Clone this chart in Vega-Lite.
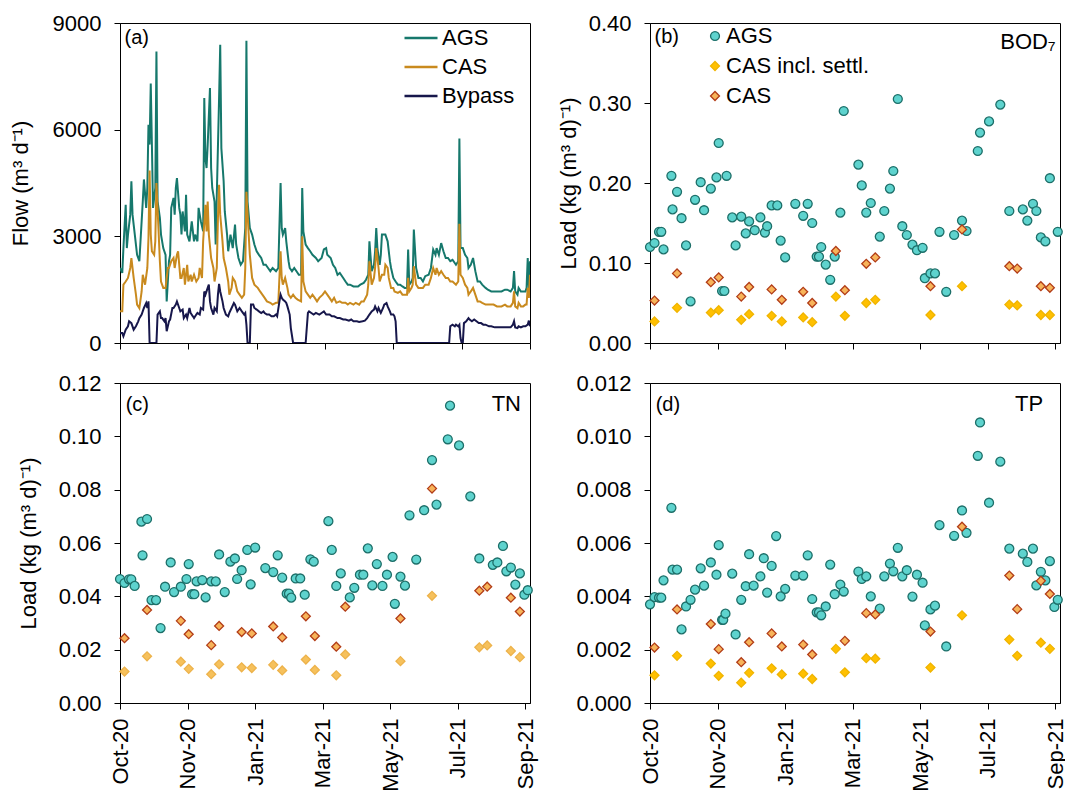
{
"$schema":"https://vega.github.io/schema/vega-lite/v6.json",
"padding":{"left":8,"top":11,"right":0,"bottom":0},
"config":{"font":"Liberation Sans","view":{"stroke":"#000","strokeWidth":1},
"axis":{"grid":false,"domainColor":"#000","tickColor":"#000","labelColor":"#000","titleColor":"#000","labelFontSize":22,"titleFontSize":22,"titleFontWeight":"normal","tickSize":6,"labelPadding":13,"labelFlush":false,"labelOverlap":false,"labelBound":false},
"legend":{"labelFontSize":22,"labelColor":"#000","padding":0,"labelLimit":300}},
"columns":2,
"spacing":{"row":40,"column":120},
"bounds":"flush",
"resolve":{"scale":{"x":"independent","y":"independent","color":"independent","shape":"independent","fill":"independent","stroke":"independent"}},
"datasets":{
"flow":[
{"s":"AGS","t":"2020-10-01","v":2110},{"s":"AGS","t":"2020-10-03","v":1970},{"s":"AGS","t":"2020-10-04","v":2670},{"s":"AGS","t":"2020-10-06","v":3890},{"s":"AGS","t":"2020-10-07","v":2670},{"s":"AGS","t":"2020-10-08","v":3050},{"s":"AGS","t":"2020-10-10","v":3610},{"s":"AGS","t":"2020-10-11","v":4550},{"s":"AGS","t":"2020-10-12","v":3610},{"s":"AGS","t":"2020-10-14","v":3050},{"s":"AGS","t":"2020-10-16","v":2480},{"s":"AGS","t":"2020-10-18","v":2300},{"s":"AGS","t":"2020-10-19","v":2860},{"s":"AGS","t":"2020-10-21","v":3980},{"s":"AGS","t":"2020-10-22","v":4600},{"s":"AGS","t":"2020-10-24","v":3800},{"s":"AGS","t":"2020-10-25","v":4360},{"s":"AGS","t":"2020-10-26","v":6140},{"s":"AGS","t":"2020-10-27","v":5580},{"s":"AGS","t":"2020-10-28","v":7300},{"s":"AGS","t":"2020-10-29","v":5580},{"s":"AGS","t":"2020-10-30","v":3800},{"s":"AGS","t":"2020-11-01","v":4360},{"s":"AGS","t":"2020-11-02","v":8200},{"s":"AGS","t":"2020-11-03","v":3980},{"s":"AGS","t":"2020-11-05","v":3520},{"s":"AGS","t":"2020-11-06","v":3050},{"s":"AGS","t":"2020-11-08","v":2670},{"s":"AGS","t":"2020-11-10","v":2480},{"s":"AGS","t":"2020-11-11","v":1170},{"s":"AGS","t":"2020-11-13","v":2300},{"s":"AGS","t":"2020-11-14","v":2480},{"s":"AGS","t":"2020-11-15","v":3800},{"s":"AGS","t":"2020-11-17","v":4080},{"s":"AGS","t":"2020-11-18","v":3610},{"s":"AGS","t":"2020-11-19","v":4360},{"s":"AGS","t":"2020-11-20","v":4640},{"s":"AGS","t":"2020-11-22","v":3800},{"s":"AGS","t":"2020-11-23","v":3610},{"s":"AGS","t":"2020-11-24","v":3050},{"s":"AGS","t":"2020-11-25","v":3700},{"s":"AGS","t":"2020-11-27","v":3140},{"s":"AGS","t":"2020-11-28","v":4170},{"s":"AGS","t":"2020-11-29","v":3050},{"s":"AGS","t":"2020-12-01","v":2860},{"s":"AGS","t":"2020-12-02","v":3140},{"s":"AGS","t":"2020-12-03","v":3420},{"s":"AGS","t":"2020-12-05","v":2860},{"s":"AGS","t":"2020-12-06","v":3050},{"s":"AGS","t":"2020-12-08","v":2860},{"s":"AGS","t":"2020-12-09","v":3800},{"s":"AGS","t":"2020-12-11","v":3420},{"s":"AGS","t":"2020-12-13","v":3140},{"s":"AGS","t":"2020-12-14","v":6890},{"s":"AGS","t":"2020-12-15","v":5200},{"s":"AGS","t":"2020-12-16","v":4920},{"s":"AGS","t":"2020-12-17","v":5580},{"s":"AGS","t":"2020-12-19","v":7170},{"s":"AGS","t":"2020-12-20","v":4920},{"s":"AGS","t":"2020-12-21","v":4360},{"s":"AGS","t":"2020-12-23","v":3980},{"s":"AGS","t":"2020-12-24","v":2770},{"s":"AGS","t":"2020-12-25","v":4170},{"s":"AGS","t":"2020-12-27","v":6890},{"s":"AGS","t":"2020-12-28","v":8390},{"s":"AGS","t":"2020-12-29","v":5480},{"s":"AGS","t":"2020-12-31","v":4550},{"s":"AGS","t":"2021-01-01","v":3700},{"s":"AGS","t":"2021-01-03","v":3050},{"s":"AGS","t":"2021-01-04","v":2580},{"s":"AGS","t":"2021-01-06","v":3050},{"s":"AGS","t":"2021-01-08","v":2670},{"s":"AGS","t":"2021-01-10","v":3330},{"s":"AGS","t":"2021-01-11","v":2770},{"s":"AGS","t":"2021-01-13","v":2390},{"s":"AGS","t":"2021-01-15","v":2200},{"s":"AGS","t":"2021-01-17","v":2300},{"s":"AGS","t":"2021-01-19","v":3230},{"s":"AGS","t":"2021-01-20","v":8500},{"s":"AGS","t":"2021-01-21","v":3980},{"s":"AGS","t":"2021-01-23","v":3230},{"s":"AGS","t":"2021-01-25","v":3050},{"s":"AGS","t":"2021-01-27","v":2770},{"s":"AGS","t":"2021-01-29","v":2580},{"s":"AGS","t":"2021-01-31","v":2480},{"s":"AGS","t":"2021-02-02","v":2390},{"s":"AGS","t":"2021-02-04","v":2200},{"s":"AGS","t":"2021-02-06","v":2200},{"s":"AGS","t":"2021-02-08","v":2110},{"s":"AGS","t":"2021-02-10","v":2020},{"s":"AGS","t":"2021-02-12","v":2110},{"s":"AGS","t":"2021-02-15","v":2020},{"s":"AGS","t":"2021-02-17","v":2110},{"s":"AGS","t":"2021-02-19","v":4500},{"s":"AGS","t":"2021-02-20","v":3230},{"s":"AGS","t":"2021-02-21","v":3050},{"s":"AGS","t":"2021-02-23","v":3230},{"s":"AGS","t":"2021-02-24","v":2860},{"s":"AGS","t":"2021-02-26","v":2300},{"s":"AGS","t":"2021-02-27","v":2110},{"s":"AGS","t":"2021-03-01","v":2020},{"s":"AGS","t":"2021-03-03","v":2110},{"s":"AGS","t":"2021-03-06","v":1970},{"s":"AGS","t":"2021-03-07","v":1920},{"s":"AGS","t":"2021-03-09","v":1920},{"s":"AGS","t":"2021-03-10","v":4360},{"s":"AGS","t":"2021-03-11","v":3140},{"s":"AGS","t":"2021-03-13","v":2770},{"s":"AGS","t":"2021-03-15","v":2670},{"s":"AGS","t":"2021-03-17","v":2580},{"s":"AGS","t":"2021-03-19","v":2480},{"s":"AGS","t":"2021-03-22","v":2390},{"s":"AGS","t":"2021-03-24","v":2300},{"s":"AGS","t":"2021-03-27","v":2390},{"s":"AGS","t":"2021-03-29","v":2630},{"s":"AGS","t":"2021-03-31","v":2670},{"s":"AGS","t":"2021-04-01","v":2480},{"s":"AGS","t":"2021-04-04","v":2390},{"s":"AGS","t":"2021-04-06","v":2200},{"s":"AGS","t":"2021-04-08","v":2110},{"s":"AGS","t":"2021-04-10","v":1920},{"s":"AGS","t":"2021-04-12","v":1970},{"s":"AGS","t":"2021-04-15","v":1830},{"s":"AGS","t":"2021-04-17","v":1730},{"s":"AGS","t":"2021-04-19","v":1640},{"s":"AGS","t":"2021-04-21","v":1640},{"s":"AGS","t":"2021-04-24","v":1590},{"s":"AGS","t":"2021-04-26","v":1590},{"s":"AGS","t":"2021-04-28","v":1590},{"s":"AGS","t":"2021-04-30","v":1640},{"s":"AGS","t":"2021-05-03","v":1690},{"s":"AGS","t":"2021-05-05","v":1780},{"s":"AGS","t":"2021-05-07","v":1920},{"s":"AGS","t":"2021-05-08","v":2860},{"s":"AGS","t":"2021-05-10","v":2020},{"s":"AGS","t":"2021-05-12","v":2200},{"s":"AGS","t":"2021-05-13","v":2580},{"s":"AGS","t":"2021-05-14","v":3230},{"s":"AGS","t":"2021-05-15","v":2670},{"s":"AGS","t":"2021-05-17","v":2200},{"s":"AGS","t":"2021-05-18","v":2480},{"s":"AGS","t":"2021-05-19","v":3050},{"s":"AGS","t":"2021-05-21","v":3050},{"s":"AGS","t":"2021-05-22","v":3050},{"s":"AGS","t":"2021-05-24","v":2860},{"s":"AGS","t":"2021-05-26","v":2300},{"s":"AGS","t":"2021-05-27","v":2110},{"s":"AGS","t":"2021-05-29","v":1830},{"s":"AGS","t":"2021-05-31","v":1730},{"s":"AGS","t":"2021-06-02","v":1640},{"s":"AGS","t":"2021-06-04","v":1640},{"s":"AGS","t":"2021-06-06","v":1590},{"s":"AGS","t":"2021-06-08","v":1550},{"s":"AGS","t":"2021-06-10","v":1550},{"s":"AGS","t":"2021-06-11","v":2630},{"s":"AGS","t":"2021-06-12","v":1640},{"s":"AGS","t":"2021-06-14","v":1730},{"s":"AGS","t":"2021-06-15","v":1830},{"s":"AGS","t":"2021-06-16","v":3190},{"s":"AGS","t":"2021-06-18","v":2110},{"s":"AGS","t":"2021-06-20","v":1830},{"s":"AGS","t":"2021-06-22","v":1830},{"s":"AGS","t":"2021-06-24","v":1730},{"s":"AGS","t":"2021-06-26","v":1880},{"s":"AGS","t":"2021-06-29","v":1920},{"s":"AGS","t":"2021-07-01","v":2110},{"s":"AGS","t":"2021-07-03","v":2630},{"s":"AGS","t":"2021-07-05","v":2480},{"s":"AGS","t":"2021-07-06","v":2670},{"s":"AGS","t":"2021-07-08","v":2480},{"s":"AGS","t":"2021-07-10","v":2810},{"s":"AGS","t":"2021-07-12","v":2580},{"s":"AGS","t":"2021-07-14","v":2390},{"s":"AGS","t":"2021-07-16","v":2390},{"s":"AGS","t":"2021-07-18","v":2300},{"s":"AGS","t":"2021-07-20","v":2340},{"s":"AGS","t":"2021-07-23","v":2200},{"s":"AGS","t":"2021-07-25","v":2300},{"s":"AGS","t":"2021-07-26","v":5750},{"s":"AGS","t":"2021-07-27","v":2670},{"s":"AGS","t":"2021-07-29","v":2670},{"s":"AGS","t":"2021-07-31","v":2480},{"s":"AGS","t":"2021-08-02","v":2390},{"s":"AGS","t":"2021-08-03","v":2110},{"s":"AGS","t":"2021-08-05","v":2200},{"s":"AGS","t":"2021-08-07","v":2390},{"s":"AGS","t":"2021-08-09","v":2020},{"s":"AGS","t":"2021-08-11","v":1730},{"s":"AGS","t":"2021-08-13","v":1730},{"s":"AGS","t":"2021-08-15","v":1640},{"s":"AGS","t":"2021-08-18","v":1550},{"s":"AGS","t":"2021-08-20","v":1500},{"s":"AGS","t":"2021-08-23","v":1450},{"s":"AGS","t":"2021-08-25","v":1450},{"s":"AGS","t":"2021-08-28","v":1450},{"s":"AGS","t":"2021-08-30","v":1450},{"s":"AGS","t":"2021-09-01","v":1450},{"s":"AGS","t":"2021-09-04","v":1500},{"s":"AGS","t":"2021-09-06","v":1500},{"s":"AGS","t":"2021-09-09","v":1450},{"s":"AGS","t":"2021-09-11","v":1550},{"s":"AGS","t":"2021-09-12","v":2020},{"s":"AGS","t":"2021-09-13","v":1450},{"s":"AGS","t":"2021-09-15","v":1360},{"s":"AGS","t":"2021-09-16","v":1550},{"s":"AGS","t":"2021-09-18","v":1450},{"s":"AGS","t":"2021-09-20","v":1450},{"s":"AGS","t":"2021-09-22","v":1450},{"s":"AGS","t":"2021-09-23","v":1550},{"s":"AGS","t":"2021-09-24","v":2390},{"s":"AGS","t":"2021-09-25","v":1550},{"s":"AGS","t":"2021-09-26","v":2300},
{"s":"CAS","t":"2020-10-01","v":890},{"s":"CAS","t":"2020-10-03","v":890},{"s":"CAS","t":"2020-10-04","v":1640},{"s":"CAS","t":"2020-10-06","v":1730},{"s":"CAS","t":"2020-10-08","v":1830},{"s":"CAS","t":"2020-10-10","v":2110},{"s":"CAS","t":"2020-10-11","v":2390},{"s":"CAS","t":"2020-10-13","v":1830},{"s":"CAS","t":"2020-10-15","v":1360},{"s":"CAS","t":"2020-10-16","v":1080},{"s":"CAS","t":"2020-10-18","v":980},{"s":"CAS","t":"2020-10-20","v":1450},{"s":"CAS","t":"2020-10-21","v":1920},{"s":"CAS","t":"2020-10-23","v":1640},{"s":"CAS","t":"2020-10-25","v":2110},{"s":"CAS","t":"2020-10-26","v":2950},{"s":"CAS","t":"2020-10-27","v":4850},{"s":"CAS","t":"2020-10-28","v":3050},{"s":"CAS","t":"2020-10-29","v":2580},{"s":"CAS","t":"2020-10-31","v":2480},{"s":"CAS","t":"2020-11-01","v":2860},{"s":"CAS","t":"2020-11-02","v":4500},{"s":"CAS","t":"2020-11-04","v":3050},{"s":"CAS","t":"2020-11-05","v":2300},{"s":"CAS","t":"2020-11-06","v":1730},{"s":"CAS","t":"2020-11-08","v":1550},{"s":"CAS","t":"2020-11-10","v":1550},{"s":"CAS","t":"2020-11-12","v":2110},{"s":"CAS","t":"2020-11-13","v":2110},{"s":"CAS","t":"2020-11-15","v":2300},{"s":"CAS","t":"2020-11-17","v":2390},{"s":"CAS","t":"2020-11-18","v":2110},{"s":"CAS","t":"2020-11-20","v":2480},{"s":"CAS","t":"2020-11-21","v":2580},{"s":"CAS","t":"2020-11-23","v":1830},{"s":"CAS","t":"2020-11-24","v":1830},{"s":"CAS","t":"2020-11-26","v":2110},{"s":"CAS","t":"2020-11-27","v":1640},{"s":"CAS","t":"2020-11-29","v":2200},{"s":"CAS","t":"2020-11-30","v":1730},{"s":"CAS","t":"2020-12-02","v":1920},{"s":"CAS","t":"2020-12-03","v":1730},{"s":"CAS","t":"2020-12-05","v":1920},{"s":"CAS","t":"2020-12-07","v":1730},{"s":"CAS","t":"2020-12-09","v":1830},{"s":"CAS","t":"2020-12-10","v":2110},{"s":"CAS","t":"2020-12-12","v":1830},{"s":"CAS","t":"2020-12-13","v":2860},{"s":"CAS","t":"2020-12-15","v":3890},{"s":"CAS","t":"2020-12-16","v":3140},{"s":"CAS","t":"2020-12-17","v":3980},{"s":"CAS","t":"2020-12-18","v":3050},{"s":"CAS","t":"2020-12-20","v":2390},{"s":"CAS","t":"2020-12-22","v":2110},{"s":"CAS","t":"2020-12-23","v":1730},{"s":"CAS","t":"2020-12-25","v":2110},{"s":"CAS","t":"2020-12-26","v":3520},{"s":"CAS","t":"2020-12-27","v":4450},{"s":"CAS","t":"2020-12-28","v":3610},{"s":"CAS","t":"2020-12-30","v":2860},{"s":"CAS","t":"2020-12-31","v":2390},{"s":"CAS","t":"2021-01-02","v":2110},{"s":"CAS","t":"2021-01-04","v":1730},{"s":"CAS","t":"2021-01-05","v":1360},{"s":"CAS","t":"2021-01-07","v":1550},{"s":"CAS","t":"2021-01-08","v":1830},{"s":"CAS","t":"2021-01-10","v":1730},{"s":"CAS","t":"2021-01-12","v":1450},{"s":"CAS","t":"2021-01-14","v":1360},{"s":"CAS","t":"2021-01-16","v":1270},{"s":"CAS","t":"2021-01-18","v":1360},{"s":"CAS","t":"2021-01-19","v":2110},{"s":"CAS","t":"2021-01-20","v":4250},{"s":"CAS","t":"2021-01-22","v":3050},{"s":"CAS","t":"2021-01-23","v":2480},{"s":"CAS","t":"2021-01-25","v":1830},{"s":"CAS","t":"2021-01-27","v":1640},{"s":"CAS","t":"2021-01-30","v":1550},{"s":"CAS","t":"2021-02-01","v":1450},{"s":"CAS","t":"2021-02-03","v":1360},{"s":"CAS","t":"2021-02-05","v":1270},{"s":"CAS","t":"2021-02-07","v":1170},{"s":"CAS","t":"2021-02-10","v":1130},{"s":"CAS","t":"2021-02-12","v":1080},{"s":"CAS","t":"2021-02-15","v":1130},{"s":"CAS","t":"2021-02-17","v":1130},{"s":"CAS","t":"2021-02-19","v":2580},{"s":"CAS","t":"2021-02-20","v":1830},{"s":"CAS","t":"2021-02-21","v":1640},{"s":"CAS","t":"2021-02-23","v":1830},{"s":"CAS","t":"2021-02-25","v":1550},{"s":"CAS","t":"2021-02-26","v":1360},{"s":"CAS","t":"2021-02-28","v":1270},{"s":"CAS","t":"2021-03-02","v":1360},{"s":"CAS","t":"2021-03-04","v":1270},{"s":"CAS","t":"2021-03-06","v":1220},{"s":"CAS","t":"2021-03-09","v":1170},{"s":"CAS","t":"2021-03-10","v":3000},{"s":"CAS","t":"2021-03-11","v":1730},{"s":"CAS","t":"2021-03-13","v":1450},{"s":"CAS","t":"2021-03-15","v":1360},{"s":"CAS","t":"2021-03-17","v":1270},{"s":"CAS","t":"2021-03-19","v":1360},{"s":"CAS","t":"2021-03-21","v":1270},{"s":"CAS","t":"2021-03-23","v":1170},{"s":"CAS","t":"2021-03-25","v":1270},{"s":"CAS","t":"2021-03-28","v":1360},{"s":"CAS","t":"2021-03-30","v":1450},{"s":"CAS","t":"2021-04-01","v":1360},{"s":"CAS","t":"2021-04-03","v":1270},{"s":"CAS","t":"2021-04-05","v":1170},{"s":"CAS","t":"2021-04-07","v":1270},{"s":"CAS","t":"2021-04-09","v":1130},{"s":"CAS","t":"2021-04-12","v":1170},{"s":"CAS","t":"2021-04-14","v":1130},{"s":"CAS","t":"2021-04-17","v":1130},{"s":"CAS","t":"2021-04-19","v":1080},{"s":"CAS","t":"2021-04-21","v":1130},{"s":"CAS","t":"2021-04-24","v":1080},{"s":"CAS","t":"2021-04-26","v":1130},{"s":"CAS","t":"2021-04-29","v":1080},{"s":"CAS","t":"2021-05-01","v":1170},{"s":"CAS","t":"2021-05-03","v":1170},{"s":"CAS","t":"2021-05-06","v":1360},{"s":"CAS","t":"2021-05-07","v":1640},{"s":"CAS","t":"2021-05-08","v":2300},{"s":"CAS","t":"2021-05-10","v":1640},{"s":"CAS","t":"2021-05-12","v":1830},{"s":"CAS","t":"2021-05-13","v":2110},{"s":"CAS","t":"2021-05-14","v":2670},{"s":"CAS","t":"2021-05-16","v":2110},{"s":"CAS","t":"2021-05-17","v":1730},{"s":"CAS","t":"2021-05-19","v":1920},{"s":"CAS","t":"2021-05-21","v":1920},{"s":"CAS","t":"2021-05-22","v":2200},{"s":"CAS","t":"2021-05-24","v":2110},{"s":"CAS","t":"2021-05-25","v":1830},{"s":"CAS","t":"2021-05-27","v":1550},{"s":"CAS","t":"2021-05-29","v":1550},{"s":"CAS","t":"2021-05-30","v":1450},{"s":"CAS","t":"2021-06-02","v":1410},{"s":"CAS","t":"2021-06-04","v":1450},{"s":"CAS","t":"2021-06-06","v":1360},{"s":"CAS","t":"2021-06-08","v":1360},{"s":"CAS","t":"2021-06-10","v":1360},{"s":"CAS","t":"2021-06-11","v":1830},{"s":"CAS","t":"2021-06-12","v":1450},{"s":"CAS","t":"2021-06-14","v":1550},{"s":"CAS","t":"2021-06-15","v":1640},{"s":"CAS","t":"2021-06-16","v":2160},{"s":"CAS","t":"2021-06-18","v":1640},{"s":"CAS","t":"2021-06-20","v":1550},{"s":"CAS","t":"2021-06-22","v":1550},{"s":"CAS","t":"2021-06-24","v":1550},{"s":"CAS","t":"2021-06-26","v":1640},{"s":"CAS","t":"2021-06-29","v":1640},{"s":"CAS","t":"2021-07-01","v":1830},{"s":"CAS","t":"2021-07-03","v":2110},{"s":"CAS","t":"2021-07-05","v":1920},{"s":"CAS","t":"2021-07-06","v":2110},{"s":"CAS","t":"2021-07-08","v":1920},{"s":"CAS","t":"2021-07-10","v":2020},{"s":"CAS","t":"2021-07-12","v":1920},{"s":"CAS","t":"2021-07-14","v":1830},{"s":"CAS","t":"2021-07-16","v":1830},{"s":"CAS","t":"2021-07-18","v":1730},{"s":"CAS","t":"2021-07-20","v":1730},{"s":"CAS","t":"2021-07-23","v":1640},{"s":"CAS","t":"2021-07-25","v":1730},{"s":"CAS","t":"2021-07-26","v":3350},{"s":"CAS","t":"2021-07-27","v":1920},{"s":"CAS","t":"2021-07-29","v":1830},{"s":"CAS","t":"2021-07-31","v":1640},{"s":"CAS","t":"2021-08-02","v":1550},{"s":"CAS","t":"2021-08-03","v":1360},{"s":"CAS","t":"2021-08-05","v":1450},{"s":"CAS","t":"2021-08-07","v":1550},{"s":"CAS","t":"2021-08-09","v":1360},{"s":"CAS","t":"2021-08-11","v":1170},{"s":"CAS","t":"2021-08-13","v":1170},{"s":"CAS","t":"2021-08-15","v":1130},{"s":"CAS","t":"2021-08-18","v":1080},{"s":"CAS","t":"2021-08-20","v":1080},{"s":"CAS","t":"2021-08-23","v":1080},{"s":"CAS","t":"2021-08-25","v":1080},{"s":"CAS","t":"2021-08-28","v":1030},{"s":"CAS","t":"2021-08-30","v":1030},{"s":"CAS","t":"2021-09-01","v":1030},{"s":"CAS","t":"2021-09-04","v":1080},{"s":"CAS","t":"2021-09-06","v":1030},{"s":"CAS","t":"2021-09-09","v":1030},{"s":"CAS","t":"2021-09-11","v":1130},{"s":"CAS","t":"2021-09-12","v":1450},{"s":"CAS","t":"2021-09-13","v":1030},{"s":"CAS","t":"2021-09-15","v":980},{"s":"CAS","t":"2021-09-16","v":1130},{"s":"CAS","t":"2021-09-18","v":1030},{"s":"CAS","t":"2021-09-20","v":1030},{"s":"CAS","t":"2021-09-22","v":1080},{"s":"CAS","t":"2021-09-23","v":1080},{"s":"CAS","t":"2021-09-24","v":1550},{"s":"CAS","t":"2021-09-25","v":1270},{"s":"CAS","t":"2021-09-26","v":1920},
{"s":"Bypass","t":"2020-10-01","v":280},{"s":"Bypass","t":"2020-10-03","v":280},{"s":"Bypass","t":"2020-10-04","v":190},{"s":"Bypass","t":"2020-10-06","v":375},{"s":"Bypass","t":"2020-10-08","v":470},{"s":"Bypass","t":"2020-10-09","v":610},{"s":"Bypass","t":"2020-10-11","v":560},{"s":"Bypass","t":"2020-10-13","v":375},{"s":"Bypass","t":"2020-10-15","v":470},{"s":"Bypass","t":"2020-10-17","v":610},{"s":"Bypass","t":"2020-10-18","v":700},{"s":"Bypass","t":"2020-10-20","v":800},{"s":"Bypass","t":"2020-10-22","v":985},{"s":"Bypass","t":"2020-10-24","v":1125},{"s":"Bypass","t":"2020-10-25","v":985},{"s":"Bypass","t":"2020-10-26","v":1170},{"s":"Bypass","t":"2020-10-27","v":0},{"s":"Bypass","t":"2020-11-02","v":0},{"s":"Bypass","t":"2020-11-03","v":800},{"s":"Bypass","t":"2020-11-05","v":890},{"s":"Bypass","t":"2020-11-06","v":700},{"s":"Bypass","t":"2020-11-07","v":700},{"s":"Bypass","t":"2020-11-09","v":610},{"s":"Bypass","t":"2020-11-10","v":700},{"s":"Bypass","t":"2020-11-11","v":330},{"s":"Bypass","t":"2020-11-13","v":610},{"s":"Bypass","t":"2020-11-14","v":660},{"s":"Bypass","t":"2020-11-16","v":985},{"s":"Bypass","t":"2020-11-17","v":985},{"s":"Bypass","t":"2020-11-19","v":1080},{"s":"Bypass","t":"2020-11-20","v":1170},{"s":"Bypass","t":"2020-11-22","v":985},{"s":"Bypass","t":"2020-11-23","v":890},{"s":"Bypass","t":"2020-11-25","v":940},{"s":"Bypass","t":"2020-11-26","v":700},{"s":"Bypass","t":"2020-11-28","v":800},{"s":"Bypass","t":"2020-11-29","v":700},{"s":"Bypass","t":"2020-12-01","v":985},{"s":"Bypass","t":"2020-12-02","v":845},{"s":"Bypass","t":"2020-12-04","v":750},{"s":"Bypass","t":"2020-12-05","v":700},{"s":"Bypass","t":"2020-12-07","v":800},{"s":"Bypass","t":"2020-12-08","v":845},{"s":"Bypass","t":"2020-12-10","v":800},{"s":"Bypass","t":"2020-12-11","v":985},{"s":"Bypass","t":"2020-12-13","v":940},{"s":"Bypass","t":"2020-12-14","v":1450},{"s":"Bypass","t":"2020-12-15","v":1360},{"s":"Bypass","t":"2020-12-17","v":1550},{"s":"Bypass","t":"2020-12-18","v":1640},{"s":"Bypass","t":"2020-12-19","v":1170},{"s":"Bypass","t":"2020-12-20","v":985},{"s":"Bypass","t":"2020-12-22","v":800},{"s":"Bypass","t":"2020-12-23","v":985},{"s":"Bypass","t":"2020-12-25","v":890},{"s":"Bypass","t":"2020-12-26","v":1360},{"s":"Bypass","t":"2020-12-27","v":1660},{"s":"Bypass","t":"2020-12-28","v":1450},{"s":"Bypass","t":"2020-12-30","v":1170},{"s":"Bypass","t":"2020-12-31","v":985},{"s":"Bypass","t":"2021-01-02","v":800},{"s":"Bypass","t":"2021-01-04","v":750},{"s":"Bypass","t":"2021-01-05","v":845},{"s":"Bypass","t":"2021-01-07","v":985},{"s":"Bypass","t":"2021-01-09","v":1125},{"s":"Bypass","t":"2021-01-10","v":1080},{"s":"Bypass","t":"2021-01-12","v":890},{"s":"Bypass","t":"2021-01-14","v":985},{"s":"Bypass","t":"2021-01-16","v":890},{"s":"Bypass","t":"2021-01-18","v":800},{"s":"Bypass","t":"2021-01-19","v":845},{"s":"Bypass","t":"2021-01-20","v":515},{"s":"Bypass","t":"2021-01-21","v":0},{"s":"Bypass","t":"2021-01-23","v":0},{"s":"Bypass","t":"2021-01-24","v":1080},{"s":"Bypass","t":"2021-01-26","v":1080},{"s":"Bypass","t":"2021-01-27","v":985},{"s":"Bypass","t":"2021-01-29","v":940},{"s":"Bypass","t":"2021-01-31","v":890},{"s":"Bypass","t":"2021-02-02","v":845},{"s":"Bypass","t":"2021-02-04","v":890},{"s":"Bypass","t":"2021-02-05","v":845},{"s":"Bypass","t":"2021-02-07","v":800},{"s":"Bypass","t":"2021-02-09","v":800},{"s":"Bypass","t":"2021-02-11","v":750},{"s":"Bypass","t":"2021-02-13","v":750},{"s":"Bypass","t":"2021-02-15","v":800},{"s":"Bypass","t":"2021-02-16","v":750},{"s":"Bypass","t":"2021-02-18","v":1170},{"s":"Bypass","t":"2021-02-19","v":1360},{"s":"Bypass","t":"2021-02-20","v":1270},{"s":"Bypass","t":"2021-02-21","v":1220},{"s":"Bypass","t":"2021-02-23","v":1170},{"s":"Bypass","t":"2021-02-24","v":1125},{"s":"Bypass","t":"2021-02-25","v":1030},{"s":"Bypass","t":"2021-02-27","v":800},{"s":"Bypass","t":"2021-02-28","v":420},{"s":"Bypass","t":"2021-03-02","v":0},{"s":"Bypass","t":"2021-03-13","v":0},{"s":"Bypass","t":"2021-03-15","v":845},{"s":"Bypass","t":"2021-03-16","v":890},{"s":"Bypass","t":"2021-03-18","v":845},{"s":"Bypass","t":"2021-03-20","v":800},{"s":"Bypass","t":"2021-03-22","v":845},{"s":"Bypass","t":"2021-03-25","v":800},{"s":"Bypass","t":"2021-03-27","v":845},{"s":"Bypass","t":"2021-03-29","v":890},{"s":"Bypass","t":"2021-03-31","v":800},{"s":"Bypass","t":"2021-04-03","v":800},{"s":"Bypass","t":"2021-04-05","v":750},{"s":"Bypass","t":"2021-04-07","v":750},{"s":"Bypass","t":"2021-04-10","v":700},{"s":"Bypass","t":"2021-04-12","v":700},{"s":"Bypass","t":"2021-04-15","v":660},{"s":"Bypass","t":"2021-04-17","v":660},{"s":"Bypass","t":"2021-04-20","v":630},{"s":"Bypass","t":"2021-04-22","v":660},{"s":"Bypass","t":"2021-04-24","v":610},{"s":"Bypass","t":"2021-04-27","v":610},{"s":"Bypass","t":"2021-04-29","v":590},{"s":"Bypass","t":"2021-05-02","v":610},{"s":"Bypass","t":"2021-05-04","v":630},{"s":"Bypass","t":"2021-05-06","v":700},{"s":"Bypass","t":"2021-05-08","v":800},{"s":"Bypass","t":"2021-05-10","v":890},{"s":"Bypass","t":"2021-05-12","v":940},{"s":"Bypass","t":"2021-05-13","v":1030},{"s":"Bypass","t":"2021-05-15","v":890},{"s":"Bypass","t":"2021-05-16","v":985},{"s":"Bypass","t":"2021-05-18","v":845},{"s":"Bypass","t":"2021-05-20","v":985},{"s":"Bypass","t":"2021-05-21","v":1080},{"s":"Bypass","t":"2021-05-23","v":1125},{"s":"Bypass","t":"2021-05-24","v":1030},{"s":"Bypass","t":"2021-05-26","v":890},{"s":"Bypass","t":"2021-05-27","v":800},{"s":"Bypass","t":"2021-05-29","v":800},{"s":"Bypass","t":"2021-05-30","v":750},{"s":"Bypass","t":"2021-05-31","v":610},{"s":"Bypass","t":"2021-06-01","v":0},{"s":"Bypass","t":"2021-07-17","v":0},{"s":"Bypass","t":"2021-07-18","v":470},{"s":"Bypass","t":"2021-07-20","v":515},{"s":"Bypass","t":"2021-07-22","v":470},{"s":"Bypass","t":"2021-07-23","v":515},{"s":"Bypass","t":"2021-07-25","v":470},{"s":"Bypass","t":"2021-07-26","v":515},{"s":"Bypass","t":"2021-07-27","v":140},{"s":"Bypass","t":"2021-07-28","v":0},{"s":"Bypass","t":"2021-07-29","v":0},{"s":"Bypass","t":"2021-07-30","v":560},{"s":"Bypass","t":"2021-08-01","v":610},{"s":"Bypass","t":"2021-08-03","v":700},{"s":"Bypass","t":"2021-08-04","v":660},{"s":"Bypass","t":"2021-08-06","v":610},{"s":"Bypass","t":"2021-08-08","v":660},{"s":"Bypass","t":"2021-08-10","v":610},{"s":"Bypass","t":"2021-08-12","v":560},{"s":"Bypass","t":"2021-08-14","v":560},{"s":"Bypass","t":"2021-08-16","v":515},{"s":"Bypass","t":"2021-08-18","v":515},{"s":"Bypass","t":"2021-08-21","v":470},{"s":"Bypass","t":"2021-08-23","v":470},{"s":"Bypass","t":"2021-08-26","v":440},{"s":"Bypass","t":"2021-08-28","v":440},{"s":"Bypass","t":"2021-08-30","v":440},{"s":"Bypass","t":"2021-09-02","v":440},{"s":"Bypass","t":"2021-09-04","v":440},{"s":"Bypass","t":"2021-09-07","v":440},{"s":"Bypass","t":"2021-09-09","v":440},{"s":"Bypass","t":"2021-09-11","v":515},{"s":"Bypass","t":"2021-09-12","v":610},{"s":"Bypass","t":"2021-09-13","v":440},{"s":"Bypass","t":"2021-09-15","v":420},{"s":"Bypass","t":"2021-09-16","v":470},{"s":"Bypass","t":"2021-09-18","v":440},{"s":"Bypass","t":"2021-09-20","v":470},{"s":"Bypass","t":"2021-09-22","v":470},{"s":"Bypass","t":"2021-09-24","v":515},{"s":"Bypass","t":"2021-09-25","v":630},{"s":"Bypass","t":"2021-09-26","v":470}
],
"bod":[
{"s":"AGS","t":"2020-10-01","v":0.120},{"s":"AGS","t":"2020-10-05","v":0.125},{"s":"AGS","t":"2020-10-09","v":0.139},{"s":"AGS","t":"2020-10-11","v":0.139},{"s":"AGS","t":"2020-10-13","v":0.117},{"s":"AGS","t":"2020-10-20","v":0.209},{"s":"AGS","t":"2020-10-21","v":0.167},{"s":"AGS","t":"2020-10-25","v":0.189},{"s":"AGS","t":"2020-10-29","v":0.156},{"s":"AGS","t":"2020-11-02","v":0.122},{"s":"AGS","t":"2020-11-06","v":0.052},{"s":"AGS","t":"2020-11-10","v":0.179},{"s":"AGS","t":"2020-11-15","v":0.201},{"s":"AGS","t":"2020-11-18","v":0.166},{"s":"AGS","t":"2020-11-24","v":0.193},{"s":"AGS","t":"2020-11-29","v":0.207},{"s":"AGS","t":"2020-12-01","v":0.250},{"s":"AGS","t":"2020-12-04","v":0.065},{"s":"AGS","t":"2020-12-06","v":0.065},{"s":"AGS","t":"2020-12-08","v":0.209},{"s":"AGS","t":"2020-12-13","v":0.157},{"s":"AGS","t":"2020-12-16","v":0.122},{"s":"AGS","t":"2020-12-21","v":0.158},{"s":"AGS","t":"2020-12-25","v":0.137},{"s":"AGS","t":"2020-12-28","v":0.152},{"s":"AGS","t":"2021-01-02","v":0.141},{"s":"AGS","t":"2021-01-07","v":0.157},{"s":"AGS","t":"2021-01-11","v":0.138},{"s":"AGS","t":"2021-01-13","v":0.146},{"s":"AGS","t":"2021-01-17","v":0.172},{"s":"AGS","t":"2021-01-22","v":0.172},{"s":"AGS","t":"2021-01-25","v":0.128},{"s":"AGS","t":"2021-01-29","v":0.107},{"s":"AGS","t":"2021-02-07","v":0.174},{"s":"AGS","t":"2021-02-14","v":0.159},{"s":"AGS","t":"2021-02-18","v":0.174},{"s":"AGS","t":"2021-02-22","v":0.150},{"s":"AGS","t":"2021-02-26","v":0.108},{"s":"AGS","t":"2021-02-28","v":0.108},{"s":"AGS","t":"2021-03-02","v":0.120},{"s":"AGS","t":"2021-03-06","v":0.098},{"s":"AGS","t":"2021-03-10","v":0.079},{"s":"AGS","t":"2021-03-14","v":0.108},{"s":"AGS","t":"2021-03-19","v":0.163},{"s":"AGS","t":"2021-03-22","v":0.290},{"s":"AGS","t":"2021-04-04","v":0.223},{"s":"AGS","t":"2021-04-07","v":0.197},{"s":"AGS","t":"2021-04-11","v":0.163},{"s":"AGS","t":"2021-04-15","v":0.175},{"s":"AGS","t":"2021-04-23","v":0.133},{"s":"AGS","t":"2021-04-27","v":0.165},{"s":"AGS","t":"2021-05-02","v":0.193},{"s":"AGS","t":"2021-05-05","v":0.215},{"s":"AGS","t":"2021-05-09","v":0.305},{"s":"AGS","t":"2021-05-13","v":0.146},{"s":"AGS","t":"2021-05-17","v":0.135},{"s":"AGS","t":"2021-05-22","v":0.123},{"s":"AGS","t":"2021-05-26","v":0.116},{"s":"AGS","t":"2021-05-31","v":0.119},{"s":"AGS","t":"2021-06-02","v":0.081},{"s":"AGS","t":"2021-06-07","v":0.087},{"s":"AGS","t":"2021-06-11","v":0.087},{"s":"AGS","t":"2021-06-15","v":0.139},{"s":"AGS","t":"2021-06-21","v":0.064},{"s":"AGS","t":"2021-06-28","v":0.135},{"s":"AGS","t":"2021-07-05","v":0.153},{"s":"AGS","t":"2021-07-09","v":0.140},{"s":"AGS","t":"2021-07-19","v":0.240},{"s":"AGS","t":"2021-07-21","v":0.263},{"s":"AGS","t":"2021-07-29","v":0.277},{"s":"AGS","t":"2021-08-08","v":0.298},{"s":"AGS","t":"2021-08-16","v":0.165},{"s":"AGS","t":"2021-08-28","v":0.167},{"s":"AGS","t":"2021-09-01","v":0.153},{"s":"AGS","t":"2021-09-06","v":0.174},{"s":"AGS","t":"2021-09-09","v":0.165},{"s":"AGS","t":"2021-09-13","v":0.132},{"s":"AGS","t":"2021-09-17","v":0.127},{"s":"AGS","t":"2021-09-21","v":0.206},{"s":"AGS","t":"2021-09-28","v":0.139},
{"s":"CAS incl. settl.","t":"2020-10-05","v":0.027},{"s":"CAS incl. settl.","t":"2020-10-25","v":0.044},{"s":"CAS incl. settl.","t":"2020-11-24","v":0.038},{"s":"CAS incl. settl.","t":"2020-12-01","v":0.041},{"s":"CAS incl. settl.","t":"2020-12-21","v":0.029},{"s":"CAS incl. settl.","t":"2020-12-28","v":0.036},{"s":"CAS incl. settl.","t":"2021-01-17","v":0.034},{"s":"CAS incl. settl.","t":"2021-01-26","v":0.027},{"s":"CAS incl. settl.","t":"2021-02-14","v":0.032},{"s":"CAS incl. settl.","t":"2021-02-22","v":0.026},{"s":"CAS incl. settl.","t":"2021-03-15","v":0.058},{"s":"CAS incl. settl.","t":"2021-03-23","v":0.034},{"s":"CAS incl. settl.","t":"2021-04-11","v":0.050},{"s":"CAS incl. settl.","t":"2021-04-19","v":0.054},{"s":"CAS incl. settl.","t":"2021-06-07","v":0.035},{"s":"CAS incl. settl.","t":"2021-07-05","v":0.071},{"s":"CAS incl. settl.","t":"2021-08-16","v":0.048},{"s":"CAS incl. settl.","t":"2021-08-23","v":0.047},{"s":"CAS incl. settl.","t":"2021-09-13","v":0.035},{"s":"CAS incl. settl.","t":"2021-09-21","v":0.035},
{"s":"CAS","t":"2020-10-05","v":0.053},{"s":"CAS","t":"2020-10-25","v":0.087},{"s":"CAS","t":"2020-11-24","v":0.076},{"s":"CAS","t":"2020-12-01","v":0.082},{"s":"CAS","t":"2020-12-21","v":0.058},{"s":"CAS","t":"2020-12-28","v":0.070},{"s":"CAS","t":"2021-01-17","v":0.067},{"s":"CAS","t":"2021-01-26","v":0.054},{"s":"CAS","t":"2021-02-14","v":0.064},{"s":"CAS","t":"2021-02-22","v":0.050},{"s":"CAS","t":"2021-03-15","v":0.115},{"s":"CAS","t":"2021-03-23","v":0.066},{"s":"CAS","t":"2021-04-11","v":0.099},{"s":"CAS","t":"2021-04-19","v":0.107},{"s":"CAS","t":"2021-06-07","v":0.071},{"s":"CAS","t":"2021-07-05","v":0.142},{"s":"CAS","t":"2021-08-16","v":0.096},{"s":"CAS","t":"2021-08-23","v":0.093},{"s":"CAS","t":"2021-09-13","v":0.071},{"s":"CAS","t":"2021-09-21","v":0.069}
],
"tn":[
{"s":"AGS","t":"2020-10-01","v":0.0465},{"s":"AGS","t":"2020-10-05","v":0.0450},{"s":"AGS","t":"2020-10-09","v":0.0464},{"s":"AGS","t":"2020-10-11","v":0.0464},{"s":"AGS","t":"2020-10-14","v":0.0439},{"s":"AGS","t":"2020-10-20","v":0.0680},{"s":"AGS","t":"2020-10-21","v":0.0554},{"s":"AGS","t":"2020-10-25","v":0.0690},{"s":"AGS","t":"2020-10-29","v":0.0386},{"s":"AGS","t":"2020-11-02","v":0.0386},{"s":"AGS","t":"2020-11-06","v":0.0281},{"s":"AGS","t":"2020-11-10","v":0.0436},{"s":"AGS","t":"2020-11-15","v":0.0527},{"s":"AGS","t":"2020-11-18","v":0.0416},{"s":"AGS","t":"2020-11-24","v":0.0436},{"s":"AGS","t":"2020-11-29","v":0.0465},{"s":"AGS","t":"2020-12-01","v":0.0521},{"s":"AGS","t":"2020-12-04","v":0.0408},{"s":"AGS","t":"2020-12-06","v":0.0408},{"s":"AGS","t":"2020-12-08","v":0.0456},{"s":"AGS","t":"2020-12-13","v":0.0461},{"s":"AGS","t":"2020-12-16","v":0.0396},{"s":"AGS","t":"2020-12-21","v":0.0456},{"s":"AGS","t":"2020-12-25","v":0.0456},{"s":"AGS","t":"2020-12-28","v":0.0557},{"s":"AGS","t":"2021-01-02","v":0.0416},{"s":"AGS","t":"2021-01-07","v":0.0530},{"s":"AGS","t":"2021-01-11","v":0.0542},{"s":"AGS","t":"2021-01-13","v":0.0465},{"s":"AGS","t":"2021-01-17","v":0.0498},{"s":"AGS","t":"2021-01-22","v":0.0574},{"s":"AGS","t":"2021-01-25","v":0.0445},{"s":"AGS","t":"2021-01-29","v":0.0583},{"s":"AGS","t":"2021-02-07","v":0.0506},{"s":"AGS","t":"2021-02-14","v":0.0491},{"s":"AGS","t":"2021-02-18","v":0.0554},{"s":"AGS","t":"2021-02-22","v":0.0470},{"s":"AGS","t":"2021-02-26","v":0.0410},{"s":"AGS","t":"2021-02-28","v":0.0410},{"s":"AGS","t":"2021-03-02","v":0.0395},{"s":"AGS","t":"2021-03-06","v":0.0467},{"s":"AGS","t":"2021-03-10","v":0.0467},{"s":"AGS","t":"2021-03-14","v":0.0406},{"s":"AGS","t":"2021-03-19","v":0.0539},{"s":"AGS","t":"2021-03-22","v":0.0530},{"s":"AGS","t":"2021-04-04","v":0.0682},{"s":"AGS","t":"2021-04-07","v":0.0574},{"s":"AGS","t":"2021-04-11","v":0.0439},{"s":"AGS","t":"2021-04-15","v":0.0486},{"s":"AGS","t":"2021-04-23","v":0.0396},{"s":"AGS","t":"2021-04-27","v":0.0432},{"s":"AGS","t":"2021-05-02","v":0.0481},{"s":"AGS","t":"2021-05-05","v":0.0481},{"s":"AGS","t":"2021-05-09","v":0.0580},{"s":"AGS","t":"2021-05-13","v":0.0441},{"s":"AGS","t":"2021-05-17","v":0.0521},{"s":"AGS","t":"2021-05-22","v":0.0439},{"s":"AGS","t":"2021-05-26","v":0.0481},{"s":"AGS","t":"2021-05-31","v":0.0548},{"s":"AGS","t":"2021-06-02","v":0.0372},{"s":"AGS","t":"2021-06-07","v":0.0474},{"s":"AGS","t":"2021-06-11","v":0.0440},{"s":"AGS","t":"2021-06-15","v":0.0704},{"s":"AGS","t":"2021-06-21","v":0.0538},{"s":"AGS","t":"2021-06-28","v":0.0723},{"s":"AGS","t":"2021-07-05","v":0.0911},{"s":"AGS","t":"2021-07-09","v":0.0744},{"s":"AGS","t":"2021-07-19","v":0.0989},{"s":"AGS","t":"2021-07-21","v":0.1115},{"s":"AGS","t":"2021-07-29","v":0.0966},{"s":"AGS","t":"2021-08-08","v":0.0775},{"s":"AGS","t":"2021-08-16","v":0.0542},{"s":"AGS","t":"2021-08-28","v":0.0518},{"s":"AGS","t":"2021-09-01","v":0.0527},{"s":"AGS","t":"2021-09-06","v":0.0589},{"s":"AGS","t":"2021-09-09","v":0.0494},{"s":"AGS","t":"2021-09-13","v":0.0508},{"s":"AGS","t":"2021-09-17","v":0.0444},{"s":"AGS","t":"2021-09-21","v":0.0486},{"s":"AGS","t":"2021-09-25","v":0.0406},{"s":"AGS","t":"2021-09-28","v":0.0423},
{"s":"CAS incl. settl.","t":"2020-10-05","v":0.0118},{"s":"CAS incl. settl.","t":"2020-10-25","v":0.0175},{"s":"CAS incl. settl.","t":"2020-11-24","v":0.0155},{"s":"CAS incl. settl.","t":"2020-12-01","v":0.0128},{"s":"CAS incl. settl.","t":"2020-12-21","v":0.0108},{"s":"CAS incl. settl.","t":"2020-12-28","v":0.0145},{"s":"CAS incl. settl.","t":"2021-01-17","v":0.0134},{"s":"CAS incl. settl.","t":"2021-01-26","v":0.0131},{"s":"CAS incl. settl.","t":"2021-02-14","v":0.0143},{"s":"CAS incl. settl.","t":"2021-02-22","v":0.0122},{"s":"CAS incl. settl.","t":"2021-03-15","v":0.0163},{"s":"CAS incl. settl.","t":"2021-03-23","v":0.0124},{"s":"CAS incl. settl.","t":"2021-04-11","v":0.0104},{"s":"CAS incl. settl.","t":"2021-04-19","v":0.0182},{"s":"CAS incl. settl.","t":"2021-06-07","v":0.0157},{"s":"CAS incl. settl.","t":"2021-07-05","v":0.0402},{"s":"CAS incl. settl.","t":"2021-08-16","v":0.0209},{"s":"CAS incl. settl.","t":"2021-08-23","v":0.0216},{"s":"CAS incl. settl.","t":"2021-09-13","v":0.0195},{"s":"CAS incl. settl.","t":"2021-09-21","v":0.0172},
{"s":"CAS","t":"2020-10-05","v":0.0243},{"s":"CAS","t":"2020-10-25","v":0.0349},{"s":"CAS","t":"2020-11-24","v":0.0308},{"s":"CAS","t":"2020-12-01","v":0.0258},{"s":"CAS","t":"2020-12-21","v":0.0217},{"s":"CAS","t":"2020-12-28","v":0.0289},{"s":"CAS","t":"2021-01-17","v":0.0266},{"s":"CAS","t":"2021-01-26","v":0.0261},{"s":"CAS","t":"2021-02-14","v":0.0287},{"s":"CAS","t":"2021-02-22","v":0.0246},{"s":"CAS","t":"2021-03-15","v":0.0325},{"s":"CAS","t":"2021-03-23","v":0.0251},{"s":"CAS","t":"2021-04-11","v":0.0211},{"s":"CAS","t":"2021-04-19","v":0.0361},{"s":"CAS","t":"2021-06-07","v":0.0317},{"s":"CAS","t":"2021-07-05","v":0.0804},{"s":"CAS","t":"2021-08-16","v":0.0421},{"s":"CAS","t":"2021-08-23","v":0.0436},{"s":"CAS","t":"2021-09-13","v":0.0395},{"s":"CAS","t":"2021-09-21","v":0.0343}
],
"tp":[
{"s":"AGS","t":"2020-10-01","v":0.00370},{"s":"AGS","t":"2020-10-05","v":0.00397},{"s":"AGS","t":"2020-10-09","v":0.00395},{"s":"AGS","t":"2020-10-11","v":0.00395},{"s":"AGS","t":"2020-10-13","v":0.00460},{"s":"AGS","t":"2020-10-20","v":0.00732},{"s":"AGS","t":"2020-10-21","v":0.00500},{"s":"AGS","t":"2020-10-25","v":0.00500},{"s":"AGS","t":"2020-10-29","v":0.00276},{"s":"AGS","t":"2020-11-02","v":0.00362},{"s":"AGS","t":"2020-11-06","v":0.00387},{"s":"AGS","t":"2020-11-10","v":0.00425},{"s":"AGS","t":"2020-11-15","v":0.00505},{"s":"AGS","t":"2020-11-18","v":0.00440},{"s":"AGS","t":"2020-11-24","v":0.00527},{"s":"AGS","t":"2020-11-29","v":0.00481},{"s":"AGS","t":"2020-12-01","v":0.00592},{"s":"AGS","t":"2020-12-04","v":0.00312},{"s":"AGS","t":"2020-12-05","v":0.00312},{"s":"AGS","t":"2020-12-07","v":0.00335},{"s":"AGS","t":"2020-12-13","v":0.00485},{"s":"AGS","t":"2020-12-16","v":0.00257},{"s":"AGS","t":"2020-12-21","v":0.00387},{"s":"AGS","t":"2020-12-25","v":0.00438},{"s":"AGS","t":"2020-12-28","v":0.00558},{"s":"AGS","t":"2021-01-01","v":0.00440},{"s":"AGS","t":"2021-01-07","v":0.00475},{"s":"AGS","t":"2021-01-10","v":0.00543},{"s":"AGS","t":"2021-01-13","v":0.00414},{"s":"AGS","t":"2021-01-17","v":0.00514},{"s":"AGS","t":"2021-01-21","v":0.00626},{"s":"AGS","t":"2021-01-25","v":0.00400},{"s":"AGS","t":"2021-01-29","v":0.00428},{"s":"AGS","t":"2021-02-07","v":0.00478},{"s":"AGS","t":"2021-02-14","v":0.00478},{"s":"AGS","t":"2021-02-18","v":0.00554},{"s":"AGS","t":"2021-02-22","v":0.00390},{"s":"AGS","t":"2021-02-26","v":0.00340},{"s":"AGS","t":"2021-02-28","v":0.00340},{"s":"AGS","t":"2021-03-02","v":0.00329},{"s":"AGS","t":"2021-03-06","v":0.00362},{"s":"AGS","t":"2021-03-10","v":0.00519},{"s":"AGS","t":"2021-03-14","v":0.00408},{"s":"AGS","t":"2021-03-19","v":0.00444},{"s":"AGS","t":"2021-03-22","v":0.00418},{"s":"AGS","t":"2021-04-04","v":0.00493},{"s":"AGS","t":"2021-04-07","v":0.00465},{"s":"AGS","t":"2021-04-11","v":0.00475},{"s":"AGS","t":"2021-04-15","v":0.00400},{"s":"AGS","t":"2021-04-23","v":0.00354},{"s":"AGS","t":"2021-04-27","v":0.00475},{"s":"AGS","t":"2021-05-02","v":0.00523},{"s":"AGS","t":"2021-05-05","v":0.00494},{"s":"AGS","t":"2021-05-09","v":0.00582},{"s":"AGS","t":"2021-05-13","v":0.00475},{"s":"AGS","t":"2021-05-17","v":0.00498},{"s":"AGS","t":"2021-05-22","v":0.00399},{"s":"AGS","t":"2021-05-26","v":0.00481},{"s":"AGS","t":"2021-05-31","v":0.00451},{"s":"AGS","t":"2021-06-02","v":0.00291},{"s":"AGS","t":"2021-06-07","v":0.00351},{"s":"AGS","t":"2021-06-11","v":0.00365},{"s":"AGS","t":"2021-06-15","v":0.00667},{"s":"AGS","t":"2021-06-21","v":0.00212},{"s":"AGS","t":"2021-06-28","v":0.00627},{"s":"AGS","t":"2021-07-05","v":0.00722},{"s":"AGS","t":"2021-07-09","v":0.00638},{"s":"AGS","t":"2021-07-19","v":0.00927},{"s":"AGS","t":"2021-07-21","v":0.01052},{"s":"AGS","t":"2021-07-29","v":0.00751},{"s":"AGS","t":"2021-08-08","v":0.00905},{"s":"AGS","t":"2021-08-16","v":0.00579},{"s":"AGS","t":"2021-08-28","v":0.00560},{"s":"AGS","t":"2021-09-01","v":0.00529},{"s":"AGS","t":"2021-09-06","v":0.00579},{"s":"AGS","t":"2021-09-09","v":0.00441},{"s":"AGS","t":"2021-09-13","v":0.00492},{"s":"AGS","t":"2021-09-17","v":0.00460},{"s":"AGS","t":"2021-09-21","v":0.00532},{"s":"AGS","t":"2021-09-25","v":0.00360},{"s":"AGS","t":"2021-09-28","v":0.00387},
{"s":"CAS incl. settl.","t":"2020-10-05","v":0.00104},{"s":"CAS incl. settl.","t":"2020-10-25","v":0.00177},{"s":"CAS incl. settl.","t":"2020-11-24","v":0.00148},{"s":"CAS incl. settl.","t":"2020-12-01","v":0.00102},{"s":"CAS incl. settl.","t":"2020-12-21","v":0.00076},{"s":"CAS incl. settl.","t":"2020-12-28","v":0.00113},{"s":"CAS incl. settl.","t":"2021-01-17","v":0.00130},{"s":"CAS incl. settl.","t":"2021-01-26","v":0.00107},{"s":"CAS incl. settl.","t":"2021-02-14","v":0.00110},{"s":"CAS incl. settl.","t":"2021-02-22","v":0.00090},{"s":"CAS incl. settl.","t":"2021-03-15","v":0.00203},{"s":"CAS incl. settl.","t":"2021-03-23","v":0.00115},{"s":"CAS incl. settl.","t":"2021-04-11","v":0.00168},{"s":"CAS incl. settl.","t":"2021-04-19","v":0.00166},{"s":"CAS incl. settl.","t":"2021-06-07","v":0.00133},{"s":"CAS incl. settl.","t":"2021-07-05","v":0.00329},{"s":"CAS incl. settl.","t":"2021-08-16","v":0.00238},{"s":"CAS incl. settl.","t":"2021-08-23","v":0.00177},{"s":"CAS incl. settl.","t":"2021-09-13","v":0.00226},{"s":"CAS incl. settl.","t":"2021-09-21","v":0.00203},
{"s":"CAS","t":"2020-10-05","v":0.00208},{"s":"CAS","t":"2020-10-25","v":0.00351},{"s":"CAS","t":"2020-11-24","v":0.00296},{"s":"CAS","t":"2020-12-01","v":0.00202},{"s":"CAS","t":"2020-12-21","v":0.00153},{"s":"CAS","t":"2020-12-28","v":0.00228},{"s":"CAS","t":"2021-01-17","v":0.00261},{"s":"CAS","t":"2021-01-26","v":0.00212},{"s":"CAS","t":"2021-02-14","v":0.00219},{"s":"CAS","t":"2021-02-22","v":0.00182},{"s":"CAS","t":"2021-03-23","v":0.00233},{"s":"CAS","t":"2021-04-11","v":0.00337},{"s":"CAS","t":"2021-04-19","v":0.00332},{"s":"CAS","t":"2021-06-07","v":0.00268},{"s":"CAS","t":"2021-07-05","v":0.00661},{"s":"CAS","t":"2021-08-16","v":0.00478},{"s":"CAS","t":"2021-08-23","v":0.00352},{"s":"CAS","t":"2021-09-13","v":0.00458},{"s":"CAS","t":"2021-09-21","v":0.00409}
]
},
"concat":[
{"width":410,"height":320,
"layer":[
{"data":{"name":"flow"},"mark":{"type":"line","strokeWidth":2,"clip":true},
"encoding":{
"x":{"field":"t","type":"temporal","scale":{"type":"utc","domain":[{"year":2020,"month":10,"date":1,"utc":true},{"year":2021,"month":9,"date":26,"utc":true}]},
"axis":{"title":null,"labels":false,"values":[{"year":2020,"month":10,"date":1,"utc":true},{"year":2020,"month":10,"date":31,"utc":true},{"year":2020,"month":11,"date":30,"utc":true},{"year":2020,"month":12,"date":30,"utc":true},{"year":2021,"month":1,"date":29,"utc":true},{"year":2021,"month":2,"date":28,"utc":true},{"year":2021,"month":3,"date":30,"utc":true},{"year":2021,"month":4,"date":29,"utc":true},{"year":2021,"month":5,"date":29,"utc":true},{"year":2021,"month":6,"date":28,"utc":true},{"year":2021,"month":7,"date":28,"utc":true},{"year":2021,"month":8,"date":27,"utc":true},{"year":2021,"month":9,"date":26,"utc":true}]}},
"y":{"field":"v","type":"quantitative","scale":{"domain":[0,9000],"nice":false},"axis":{"values":[0,3000,6000,9000],"format":"d","title":"Flow (m³ d⁻¹)","titleX":-100,"titleBaseline":"middle"}},
"color":{"field":"s","type":"nominal","scale":{"domain":["AGS","CAS","Bypass"],"range":["#16786C","#C98A1E","#17174B"]},
"legend":{"orient":"none","legendX":283,"legendY":-3,"title":null,"symbolType":"stroke","symbolSize":1089,"symbolStrokeWidth":2.5,"labelOffset":3,"rowPadding":0}}}},
{"data":{"values":[{}]},"mark":{"type":"text","align":"left","baseline":"top","fontSize":20,"text":"(a)"},
"encoding":{"x":{"datum":{"year":2020,"month":10,"date":5,"utc":true},"type":"temporal"},"y":{"datum":8860,"type":"quantitative"}}}
]},
{"width":410,"height":320,
"layer":[
{"data":{"name":"bod"},"mark":{"type":"point","filled":true,"strokeWidth":1.3,"size":80,"opacity":1},
"encoding":{
"x":{"field":"t","type":"temporal","scale":{"type":"utc","domain":[{"year":2020,"month":10,"date":1,"utc":true},{"year":2021,"month":9,"date":30,"utc":true}]},
"axis":{"title":null,"labels":false,"values":[{"year":2020,"month":10,"date":1,"utc":true},{"year":2020,"month":11,"date":30,"utc":true},{"year":2021,"month":1,"date":29,"utc":true},{"year":2021,"month":3,"date":30,"utc":true},{"year":2021,"month":5,"date":29,"utc":true},{"year":2021,"month":7,"date":28,"utc":true},{"year":2021,"month":9,"date":26,"utc":true}]}},
"y":{"field":"v","type":"quantitative","scale":{"domain":[0,0.4],"nice":false},"axis":{"values":[0,0.1,0.2,0.3,0.4],"format":".2f","title":"Load (kg (m³ d)⁻¹)","titleX":-82,"titleBaseline":"middle"}},
"shape":{"field":"s","type":"nominal","scale":{"domain":["AGS","CAS incl. settl.","CAS"],"range":["circle","diamond","diamond"]},"legend":{"orient":"none","legendX":54,"legendY":2,"title":null,"symbolSize":80,"symbolStrokeWidth":1.3,"labelOffset":0,"rowPadding":8}},
"fill":{"field":"s","type":"nominal","scale":{"domain":["AGS","CAS incl. settl.","CAS"],"range":["#5ED3CE","#FFC000","#F7B45A"]},"legend":{"orient":"none","legendX":54,"legendY":2,"title":null,"symbolSize":80,"symbolStrokeWidth":1.3,"labelOffset":0,"rowPadding":8}},
"stroke":{"field":"s","type":"nominal","scale":{"domain":["AGS","CAS incl. settl.","CAS"],"range":["#1D6F69","#F0B400","#B23C17"]},"legend":{"orient":"none","legendX":54,"legendY":2,"title":null,"symbolSize":80,"symbolStrokeWidth":1.3,"labelOffset":0,"rowPadding":8}}}},
{"data":{"values":[{}]},"mark":{"type":"text","align":"left","baseline":"top","fontSize":20,"text":"(b)"},
"encoding":{"x":{"datum":{"year":2020,"month":10,"date":5,"utc":true},"type":"temporal"},"y":{"datum":0.395,"type":"quantitative"}}},
{"data":{"values":[{}]},"mark":{"type":"text","align":"right","baseline":"top","fontSize":22,"text":"BOD₇"},
"encoding":{"x":{"datum":{"year":2021,"month":9,"date":26,"utc":true},"type":"temporal"},"y":{"datum":0.389,"type":"quantitative"}}}
]},
{"width":410,"height":320,
"layer":[
{"data":{"name":"tn"},"mark":{"type":"point","filled":true,"strokeWidth":1.3,"size":80,"opacity":1},
"encoding":{
"x":{"field":"t","type":"temporal","scale":{"type":"utc","domain":[{"year":2020,"month":10,"date":1,"utc":true},{"year":2021,"month":9,"date":30,"utc":true}]},
"axis":{"title":null,"labelAngle":270,"labelPadding":9,"labelExpr":"utcFormat(datum.value, '%b-%y')","values":[{"year":2020,"month":10,"date":1,"utc":true},{"year":2020,"month":11,"date":30,"utc":true},{"year":2021,"month":1,"date":29,"utc":true},{"year":2021,"month":3,"date":30,"utc":true},{"year":2021,"month":5,"date":29,"utc":true},{"year":2021,"month":7,"date":28,"utc":true},{"year":2021,"month":9,"date":26,"utc":true}]}},
"y":{"field":"v","type":"quantitative","scale":{"domain":[0,0.12],"nice":false},"axis":{"values":[0,0.02,0.04,0.06,0.08,0.1,0.12],"format":".2f","title":"Load (kg (m³ d)⁻¹)","titleX":-92,"titleBaseline":"middle"}},
"shape":{"field":"s","type":"nominal","scale":{"domain":["AGS","CAS incl. settl.","CAS"],"range":["circle","diamond","diamond"]},"legend":null},
"fill":{"field":"s","type":"nominal","scale":{"domain":["AGS","CAS incl. settl.","CAS"],"range":["#5ED3CE","#F6C15C","#F7B45A"]},"legend":null},
"stroke":{"field":"s","type":"nominal","scale":{"domain":["AGS","CAS incl. settl.","CAS"],"range":["#1D6F69","#EDB24A","#B23C17"]},"legend":null}}},
{"data":{"values":[{}]},"mark":{"type":"text","align":"left","baseline":"top","fontSize":20,"text":"(c)"},
"encoding":{"x":{"datum":{"year":2020,"month":10,"date":6,"utc":true},"type":"temporal"},"y":{"datum":0.1155,"type":"quantitative"}}},
{"data":{"values":[{}]},"mark":{"type":"text","align":"right","baseline":"top","fontSize":22,"text":"TN"},
"encoding":{"x":{"datum":{"year":2021,"month":9,"date":22,"utc":true},"type":"temporal"},"y":{"datum":0.116,"type":"quantitative"}}}
]},
{"width":410,"height":320,
"layer":[
{"data":{"name":"tp"},"mark":{"type":"point","filled":true,"strokeWidth":1.3,"size":80,"opacity":1},
"encoding":{
"x":{"field":"t","type":"temporal","scale":{"type":"utc","domain":[{"year":2020,"month":10,"date":1,"utc":true},{"year":2021,"month":9,"date":30,"utc":true}]},
"axis":{"title":null,"labelAngle":270,"labelPadding":9,"labelExpr":"utcFormat(datum.value, '%b-%y')","values":[{"year":2020,"month":10,"date":1,"utc":true},{"year":2020,"month":11,"date":30,"utc":true},{"year":2021,"month":1,"date":29,"utc":true},{"year":2021,"month":3,"date":30,"utc":true},{"year":2021,"month":5,"date":29,"utc":true},{"year":2021,"month":7,"date":28,"utc":true},{"year":2021,"month":9,"date":26,"utc":true}]}},
"y":{"field":"v","type":"quantitative","scale":{"domain":[0,0.012],"nice":false},"axis":{"values":[0,0.002,0.004,0.006,0.008,0.01,0.012],"format":".3f","title":null}},
"shape":{"field":"s","type":"nominal","scale":{"domain":["AGS","CAS incl. settl.","CAS"],"range":["circle","diamond","diamond"]},"legend":null},
"fill":{"field":"s","type":"nominal","scale":{"domain":["AGS","CAS incl. settl.","CAS"],"range":["#5ED3CE","#FFC000","#F7B45A"]},"legend":null},
"stroke":{"field":"s","type":"nominal","scale":{"domain":["AGS","CAS incl. settl.","CAS"],"range":["#1D6F69","#F0B400","#B23C17"]},"legend":null}}},
{"data":{"values":[{}]},"mark":{"type":"text","align":"left","baseline":"top","fontSize":20,"text":"(d)"},
"encoding":{"x":{"datum":{"year":2020,"month":10,"date":6,"utc":true},"type":"temporal"},"y":{"datum":0.01155,"type":"quantitative"}}},
{"data":{"values":[{}]},"mark":{"type":"text","align":"right","baseline":"top","fontSize":22,"text":"TP"},
"encoding":{"x":{"datum":{"year":2021,"month":9,"date":15,"utc":true},"type":"temporal"},"y":{"datum":0.0116,"type":"quantitative"}}}
]}
]
}
